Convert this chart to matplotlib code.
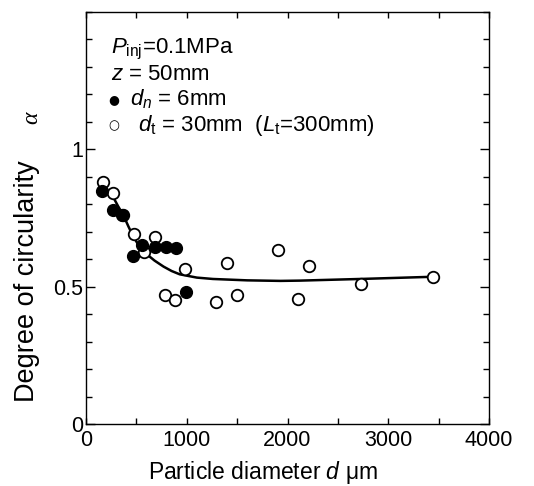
import matplotlib
matplotlib.use("Agg")
import matplotlib.pyplot as plt
from matplotlib.ticker import MultipleLocator, FixedLocator

plt.rcParams['font.family'] = ['Liberation Sans', 'DejaVu Sans']
plt.rcParams['mathtext.fontset'] = 'custom'
plt.rcParams['mathtext.rm'] = 'Liberation Sans'
plt.rcParams['mathtext.it'] = 'Liberation Sans:italic'
plt.rcParams['mathtext.bf'] = 'Liberation Sans:bold'

# ---- data ----
nozzle_d = [160, 270, 360, 470, 560, 680, 790, 890, 990]
nozzle_alpha = [0.85, 0.78, 0.76, 0.61, 0.65, 0.645, 0.645, 0.64, 0.48]

tube_d = [165, 270, 370, 475, 580, 680, 785, 885, 985, 1290, 1395, 1500,
          1910, 2100, 2215, 2725, 3440]
tube_alpha = [0.88, 0.84, 0.76, 0.69, 0.625, 0.68, 0.47, 0.45, 0.565, 0.445,
              0.585, 0.47, 0.635, 0.455, 0.575, 0.51, 0.535]

fit_d = [270, 320, 370, 420, 470, 520, 600, 680, 770, 850, 930, 1100, 1260,
         1600, 1930, 2120, 2720, 3440]
fit_alpha = [0.826, 0.792, 0.761, 0.72, 0.682, 0.652, 0.619, 0.595, 0.573,
             0.557, 0.545, 0.533, 0.528, 0.523, 0.521, 0.522, 0.528, 0.536]

x_ticks = [0, 1000, 2000, 3000, 4000]
y_ticks = [0, 0.5, 1]
y_tick_labels = ['0', '0.5', '1']

fig = plt.figure(figsize=(5.34, 4.86), dpi=100)
ax = fig.add_axes([86/534, 1-424/486, (489-86)/534, (424-12)/486])

ax.plot(fit_d, fit_alpha, color='black', lw=1.8, zorder=2)
ax.plot(tube_d, tube_alpha, linestyle='none', marker='o', ms=8.3,
        mfc='white', mec='black', mew=1.3, zorder=3)
ax.plot(nozzle_d, nozzle_alpha, linestyle='none', marker='o', ms=8.5,
        mfc='black', mec='black', mew=1.0, zorder=4)

ax.set_xlim(0, 4000)
ax.set_ylim(0, 1.5)
ax.xaxis.set_major_locator(FixedLocator(x_ticks))
ax.xaxis.set_minor_locator(MultipleLocator(500))
ax.yaxis.set_major_locator(FixedLocator(y_ticks))
ax.set_yticklabels(y_tick_labels)
ax.yaxis.set_minor_locator(MultipleLocator(0.1))

ax.tick_params(which='both', direction='in', top=True, right=True,
               width=1.0, colors='black', labelsize=15.5)
ax.tick_params(axis='x', which='major', length=4.5, pad=4.5)
ax.tick_params(axis='x', which='minor', length=4.5)
ax.tick_params(axis='y', which='major', length=6.5, pad=2)
ax.tick_params(axis='y', which='minor', length=4.2)
for s in ax.spines.values():
    s.set_linewidth(1.0)

# axis labels
fig.text(263/534, 1-479/486, r'Particle diameter $d$ $\mathrm{\mu}$m',
         ha='center', va='baseline', fontsize=16.5)
fig.text(27/534, 1-281/486, 'Degree of circularity', rotation=90,
         ha='center', va='center', fontsize=19.5)
fig.text(32/534, 1-118/486, 'α', rotation=90, ha='center', va='center',
         fontsize=17, family='Liberation Serif', style='italic')

# annotation block
tx = (111-86)/403
def ay(py):
    return (424-py)/412
fs = 16
ax.text(tx, ay(53), r'$P_{\mathrm{inj}}$=0.1MPa', transform=ax.transAxes,
        fontsize=fs, va='baseline')
ax.text(tx, ay(80), r'$z$ = 50mm', transform=ax.transAxes,
        fontsize=fs, va='baseline')
ax.text((114-86)/403, ay(100), '●', transform=ax.transAxes, fontsize=9,
        ha='center', va='center', family='DejaVu Sans')
ax.text((130-86)/403, ay(105), r'$d_n$ = 6mm', transform=ax.transAxes,
        fontsize=fs, va='baseline')
ax.text((114-86)/403, ay(126), '○', transform=ax.transAxes, fontsize=9,
        ha='center', va='center', family='DejaVu Sans')
ax.text((138-86)/403, ay(131), r'$d_{\mathrm{t}}$ = 30mm  ($L_{\mathrm{t}}$=300mm)',
        transform=ax.transAxes, fontsize=fs, va='baseline')

fig.savefig('out.png', dpi=100)
